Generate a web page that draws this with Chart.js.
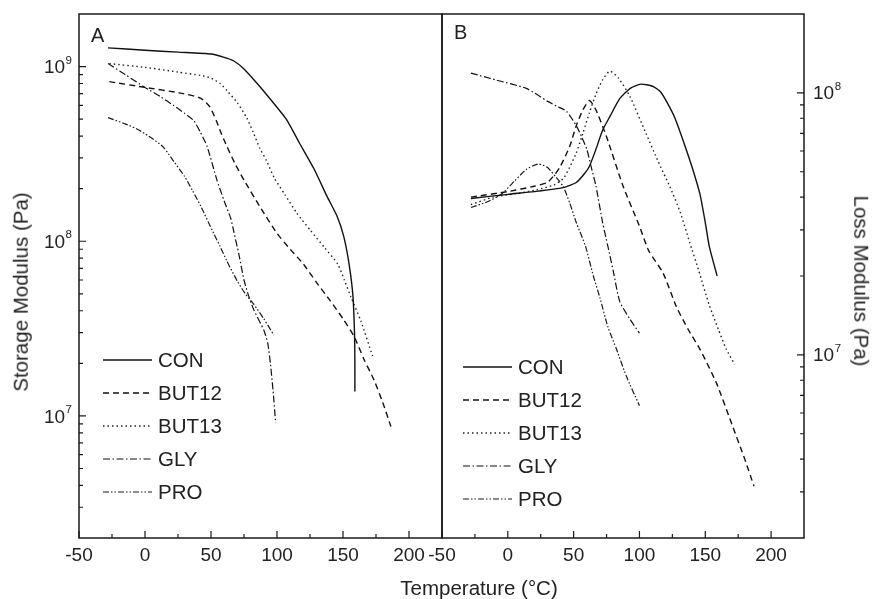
<!DOCTYPE html>
<html>
<head>
<meta charset="utf-8">
<script src="https://cdn.jsdelivr.net/npm/chart.js@4.4.1/dist/chart.umd.min.js"></script>
<style>
  body { margin: 0; background: #fff; }
  #wrap { position: relative; width: 873px; height: 599px; overflow: hidden;
          font-family: "Liberation Sans", Arial, sans-serif; color: #222; }
  canvas { position: absolute; top: 0; }
  .t { position: absolute; white-space: nowrap; line-height: 1; font-size: 20.5px; }
  #xTitle { left: 479px; top: 587.5px; transform: translate(-50%, -50%); }
  #yTitleL { left: 20.5px; top: 292px; transform: translate(-50%, -50%) rotate(-90deg); }
  #yTitleR { left: 860.5px; top: 281px; transform: translate(-50%, -50%) rotate(90deg); }
  #tagA { left: 91px; top: 25px; font-size: 20px; }
  #tagB { left: 454px; top: 22px; font-size: 20px; }
</style>
</head>
<body>
<div id="wrap">
  <canvas id="chartA" width="444" height="599" style="left:0"></canvas>
  <canvas id="chartB" width="473" height="599" style="left:400px"></canvas>
  <div class="t" id="tagA">A</div>
  <div class="t" id="tagB">B</div>
  <div class="t" id="yTitleL">Storage Modulus (Pa)</div>
  <div class="t" id="yTitleR">Loss Modulus (Pa)</div>
  <div class="t" id="xTitle">Temperature (°C)</div>
</div>
<script>
const seriesNames = ['CON', 'BUT12', 'BUT13', 'GLY', 'PRO'];
const xTicks = [-50, 0, 50, 100, 150, 200];
const storageTicks = [1e7, 1e8, 1e9];
const lossTicks = [1e7, 1e8];

// [temperature °C, modulus Pa]
const storageCON = [[-28,1.28e9],[0,1.24e9],[25,1.21e9],[50,1.18e9],[60,1.13e9],[67,1.08e9],[75,9.7e8],[85,8.0e8],[95,6.5e8],[107,5.0e8],[117,3.65e8],[128,2.6e8],[138,1.8e8],[145.5,1.39e8],[150.5,1.07e8],[154.5,7.5e7],[157.5,4.9e7],[158.7,3.0e7],[159,2.0e7],[159,1.38e7]];
const storageBUT12 = [[-27,8.2e8],[0,7.6e8],[27,7.05e8],[42,6.6e8],[49,5.9e8],[54.5,4.8e8],[58,4.1e8],[62,3.5e8],[68,2.8e8],[75,2.24e8],[87,1.58e8],[100,1.11e8],[110,9.0e7],[120,7.4e7],[130,5.8e7],[140,4.6e7],[150,3.6e7],[158.4,2.85e7],[166,2.1e7],[173.6,1.6e7],[180,1.2e7],[186.3,8.7e6]];
const storageBUT13 = [[-27,1.04e9],[0,9.9e8],[25,9.3e8],[42,8.9e8],[50,8.6e8],[57,8.0e8],[62,7.3e8],[70,6.2e8],[77,5.1e8],[82,4.2e8],[87,3.4e8],[92,2.9e8],[98,2.3e8],[106,1.85e8],[115,1.45e8],[125.5,1.15e8],[136,9.2e7],[146,7.4e7],[151,6.0e7],[156,4.8e7],[163.5,3.5e7],[172.4,2.2e7]];
const storageGLY = [[-28,1.04e9],[-15,9.0e8],[0,7.6e8],[12,6.7e8],[21.5,6.0e8],[30,5.4e8],[37,4.9e8],[42,4.2e8],[47,3.5e8],[54.5,2.24e8],[60,1.7e8],[65,1.35e8],[67,1.16e8],[71,8.5e7],[75,6.0e7],[78,5.0e7],[82.4,4.05e7],[90,3.1e7],[93,2.6e7],[95,2.0e7],[97,1.4e7],[99,9.1e6]];
const storagePRO = [[-28,5.1e8],[-15,4.7e8],[-5,4.35e8],[5,3.9e8],[14,3.45e8],[22,2.85e8],[30,2.35e8],[36,1.95e8],[42,1.6e8],[52,1.11e8],[57,9.3e7],[62,7.7e7],[70,5.9e7],[76,5.0e7],[82,4.4e7],[90,3.6e7],[97.6,2.9e7]];

const lossCON = [[-28,3.95e7],[0,4.1e7],[20,4.2e7],[42,4.35e7],[52,4.55e7],[58,4.9e7],[62,5.25e7],[67,6.1e7],[72,7.2e7],[78,8.2e7],[85,9.5e7],[93,1.04e8],[101,1.08e8],[110,1.06e8],[116,1.01e8],[122,9.0e7],[127,8.0e7],[134,6.4e7],[140,5.2e7],[146,4.1e7],[150,3.2e7],[153,2.6e7],[159,2.0e7]];
const lossBUT12 = [[-28,4.0e7],[0,4.2e7],[20,4.4e7],[30,4.55e7],[36,4.9e7],[40,5.25e7],[47,6.25e7],[52,7.5e7],[57,8.6e7],[62,9.35e7],[67,8.6e7],[75,6.8e7],[87.6,4.4e7],[100,3.1e7],[107,2.5e7],[118,2.05e7],[128,1.53e7],[137,1.25e7],[146,1.05e7],[158.5,7.8e6],[171,5.3e6],[180,4.0e6],[187,3.15e6]];
const lossBUT13 = [[-28,3.75e7],[-11,4.0e7],[10,4.15e7],[22,4.27e7],[35,4.45e7],[42,4.7e7],[47,5.2e7],[52,5.9e7],[57,7.0e7],[62,8.4e7],[67,9.9e7],[72,1.12e8],[77.5,1.21e8],[84,1.14e8],[92.7,9.7e7],[105,7.0e7],[114,5.5e7],[123,4.4e7],[131,3.5e7],[138,2.7e7],[145,2.1e7],[153,1.55e7],[160,1.25e7],[166,1.05e7],[172.4,9.2e6]];
const lossGLY = [[-28,1.19e8],[-9,1.12e8],[14,1.04e8],[30,9.3e7],[37,8.9e7],[44.6,8.5e7],[52,7.5e7],[56,6.8e7],[60,6.1e7],[63,5.3e7],[67,4.4e7],[72,3.2e7],[76,2.6e7],[80,2.1e7],[85,1.6e7],[92.7,1.37e7],[100,1.21e7]];
const lossPRO = [[-28,3.65e7],[-15,3.85e7],[-5,4.1e7],[5,4.6e7],[14,5.1e7],[23,5.35e7],[30,5.2e7],[36,4.8e7],[42,4.4e7],[47,3.8e7],[52,3.2e7],[59,2.6e7],[65,2.0e7],[70,1.65e7],[76,1.28e7],[82.6,1.05e7],[90,8.3e6],[100,6.4e6]];

const FONT = '"Liberation Sans", Arial, sans-serif';
const lineStyles = [
  { dash: [], width: 1.4, color: '#111' },
  { dash: [6, 4], width: 1.4, color: '#111' },
  { dash: [1.5, 3], width: 1.4, color: '#222' },
  { dash: [7, 2.5, 1.5, 2.5], width: 1.2, color: '#111' },
  { dash: [6, 2, 1.5, 2, 1.5, 2], width: 1.2, color: '#1a1a1a' }
];

// frame, inward tick marks and 10^n labels
const axisFrame = {
  id: 'axisFrame',
  afterDraw(chart, args, o) {
    const { ctx, chartArea: a } = chart;
    const xs = chart.scales.x, ys = chart.scales.y;
    ctx.save();
    ctx.strokeStyle = '#1a1a1a';
    ctx.lineWidth = 1.5;
    ctx.strokeRect(a.left, a.top, a.right - a.left, a.bottom - a.top);
    ctx.lineWidth = 1.2;
    ctx.beginPath();
    xTicks.forEach(v => {
      const px = xs.getPixelForValue(v);
      ctx.moveTo(px, a.bottom); ctx.lineTo(px, a.bottom - 7);
      if (v + 25 < xs.max) {
        const pm = xs.getPixelForValue(v + 25);
        ctx.moveTo(pm, a.bottom); ctx.lineTo(pm, a.bottom - 4);
      }
    });
    const left = o.side === 'left';
    const x0 = left ? a.left : a.right;
    const dir = left ? 1 : -1;
    for (let d = 6; d <= 9; d++) {
      for (let m = 1; m <= 9; m++) {
        const v = m * Math.pow(10, d);
        if (v <= ys.min || v >= ys.max) continue;
        const py = ys.getPixelForValue(v);
        ctx.moveTo(x0, py); ctx.lineTo(x0 + dir * (m === 1 ? 7 : 4), py);
      }
    }
    ctx.stroke();

    ctx.fillStyle = '#222';
    ctx.textBaseline = 'alphabetic';
    ctx.textAlign = 'left';
    o.labels.forEach(v => {
      const py = ys.getPixelForValue(v);
      const exp = String(Math.round(Math.log10(v)));
      ctx.font = '11.5px ' + FONT;
      const ew = ctx.measureText(exp).width;
      ctx.font = '19px ' + FONT;
      const bw = ctx.measureText('10').width;
      let bx;
      if (left) bx = a.left - 7 - ew - 0.5 - bw;
      else bx = a.right + 9;
      ctx.fillText('10', bx, py + 6.6);
      ctx.font = '11.5px ' + FONT;
      ctx.fillText(exp, bx + bw + 0.5, py - 3);
    });
    ctx.restore();
  }
};

const legendLines = {
  id: 'legendLines',
  afterDraw(chart, args, o) {
    const ctx = chart.ctx;
    ctx.save();
    chart.data.datasets.forEach((ds, i) => {
      const y = o.y + i * o.step;
      ctx.strokeStyle = ds.borderColor;
      ctx.lineWidth = ds.borderWidth;
      ctx.setLineDash(ds.borderDash);
      ctx.beginPath();
      ctx.moveTo(o.x, y); ctx.lineTo(o.x + o.len, y);
      ctx.stroke();
      ctx.setLineDash([]);
      ctx.fillStyle = '#222';
      ctx.font = '20.5px ' + FONT;
      ctx.textBaseline = 'middle';
      ctx.fillText(ds.label, o.x + o.len + 6, y + 1);
    });
    ctx.restore();
  }
};

function makePanel(id, series, yMin, yMax, ticks, side, pad, legendPos) {
  const datasets = series.map((pts, i) => ({
    label: seriesNames[i],
    data: pts.map(p => ({ x: p[0], y: p[1] })),
    borderColor: lineStyles[i].color,
    borderWidth: lineStyles[i].width,
    borderDash: lineStyles[i].dash,
    pointRadius: 0,
    fill: false,
    tension: 0.2
  }));
  return new Chart(document.getElementById(id), {
    type: 'line',
    data: { datasets },
    options: {
      responsive: false,
      animation: false,
      devicePixelRatio: 1,
      layout: { padding: pad },
      plugins: {
        legend: { display: false },
        tooltip: { enabled: false },
        axisFrame: { side, labels: ticks },
        legendLines: legendPos
      },
      scales: {
        x: {
          type: 'linear', min: -50, max: 225,
          afterBuildTicks: s => { s.ticks = xTicks.map(v => ({ value: v })); },
          afterFit: s => { s.height = 61; },
          grid: { display: false, drawTicks: false },
          border: { display: false },
          ticks: {
            autoSkip: false, maxRotation: 0, padding: 6, color: '#222',
            font: { family: FONT, size: 19 },
            callback: v => String(v)
          }
        },
        y: { type: 'logarithmic', min: yMin, max: yMax, display: false }
      }
    },
    plugins: [axisFrame, legendLines]
  });
}

makePanel('chartA',
  [storageCON, storageBUT12, storageBUT13, storageGLY, storagePRO],
  2e6, 2e9, storageTicks, 'left',
  { left: 79, top: 14, right: 2, bottom: 0 },
  { x: 103, y: 360, step: 33, len: 49 });

makePanel('chartB',
  [lossCON, lossBUT12, lossBUT13, lossGLY, lossPRO],
  2e6, 2e8, lossTicks, 'right',
  { left: 42, top: 14, right: 69, bottom: 0 },
  { x: 63, y: 367, step: 33, len: 49 });
</script>
</body>
</html>
